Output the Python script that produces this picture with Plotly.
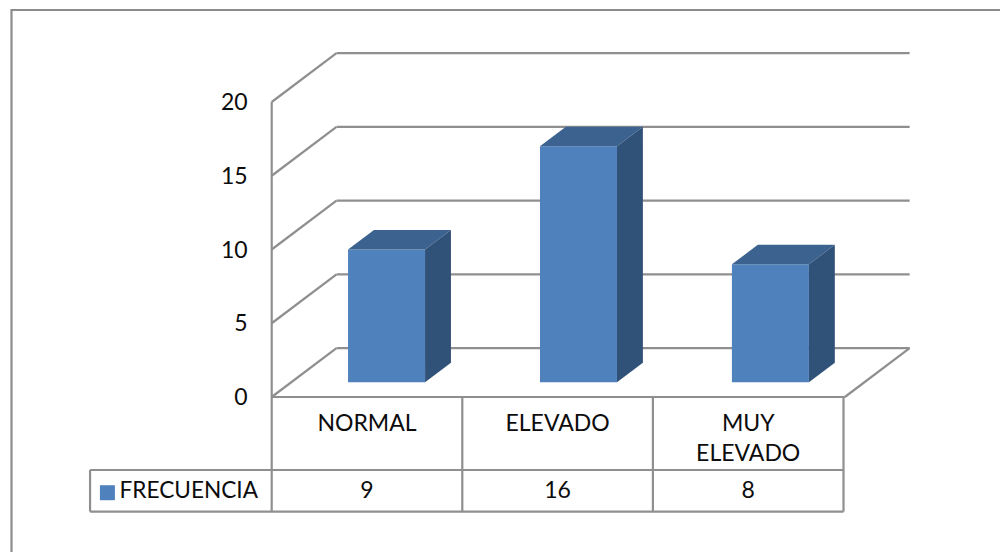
import plotly.graph_objects as go

# Chart data
categories = ["NORMAL", "ELEVADO", "MUY<br>ELEVADO"]
frecuencia = [9, 16, 8]
series_name = "FRECUENCIA"
y_ticks = [0, 5, 10, 15, 20]

# Canvas and axis scale
WIDTH, HEIGHT = 1000, 552
ORIGIN_X, ORIGIN_Y = 271.7, 397.0   # where category 0 / value 0 sit on the canvas
CAT_PX = 190.6                      # pixels per category
VAL_PX = 14.75                      # pixels per value unit

# Oblique projection: depth 0 is the front of the floor, depth 1 the back wall
DEPTH_X = 0.340    # category units across the depth
DEPTH_Y = 3.31     # value units across the depth
BAR_WIDTH = 0.404
BAR_FRONT = 0.30
BAR_BACK = 0.70
BAR_PITCH = 1.007  # columns sit slightly wider apart than the table cells
BAR_SHIFT = -0.003
WALL_RIGHT = 3.007

# Table rows, in value units below the axis
ROW_TOP = -4.95
ROW_BOTTOM = -7.77
TABLE_LEFT = -0.953

GRAY = "#8f8f8f"
FRONT = "#4f81bd"
TOP = "#3c6290"
SIDE = "#315278"
FONT = dict(family="Lato", size=23, color="#0c0c0c")


def proj(x, v, d):
    return x + d * DEPTH_X, v + d * DEPTH_Y


def poly(points, color):
    xs, ys = zip(*points)
    return go.Scatter(
        x=list(xs) + [xs[0]], y=list(ys) + [ys[0]], mode="lines", fill="toself",
        fillcolor=color, line=dict(width=0, color=color), hoverinfo="skip",
        showlegend=False,
    )


def line_shape(p, q, width=2.2):
    return dict(type="line", xref="x", yref="y", layer="below",
                x0=p[0], y0=p[1], x1=q[0], y1=q[1],
                line=dict(color=GRAY, width=width))


shapes = []
# Back wall and side wall grid lines
for v in y_ticks:
    shapes.append(line_shape(proj(0, v, 0), proj(0, v, 1)))
    shapes.append(line_shape(proj(0, v, 1), proj(WALL_RIGHT, v, 1)))
# Floor edges and the vertical axis
shapes.append(line_shape(proj(0, 0, 0), proj(WALL_RIGHT, 0, 0)))
shapes.append(line_shape(proj(WALL_RIGHT, 0, 0), proj(WALL_RIGHT, 0, 1)))
shapes.append(line_shape(proj(0, 0, 0), proj(0, y_ticks[-1], 0)))

# Outer chart border: left and top sides only
shapes.append(dict(type="line", xref="paper", yref="paper", x0=0.0115, x1=0.0115,
                   y0=0, y1=1 - 10 / HEIGHT, line=dict(color="#8c8c8c", width=2.2)))
shapes.append(dict(type="line", xref="paper", yref="paper", x0=0.0105, x1=1,
                   y0=1 - 10 / HEIGHT, y1=1 - 10 / HEIGHT,
                   line=dict(color="#8c8c8c", width=2.2)))

fig = go.Figure()

centers = [i + 0.5 for i in range(len(frecuencia))]
bar_centers = [c * BAR_PITCH + BAR_SHIFT for c in centers]
bar_x = [c + BAR_FRONT * DEPTH_X for c in bar_centers]

# Front faces of the columns
fig.add_trace(go.Bar(
    x=bar_x, y=frecuencia, base=BAR_FRONT * DEPTH_Y, width=BAR_WIDTH,
    marker=dict(color=FRONT, line=dict(width=0)), name=series_name,
    showlegend=False,
))

# Top and side faces of the columns
for c, v in zip(bar_centers, frecuencia):
    left, right = c - BAR_WIDTH / 2, c + BAR_WIDTH / 2
    fig.add_trace(poly([proj(left, v, BAR_FRONT), proj(right, v, BAR_FRONT),
                        proj(right, v, BAR_BACK), proj(left, v, BAR_BACK)], TOP))
    fig.add_trace(poly([proj(right, 0, BAR_FRONT), proj(right, v, BAR_FRONT),
                        proj(right, v, BAR_BACK), proj(right, 0, BAR_BACK)], SIDE))

# Data table rules below the axis
table_x, table_y = [], []
for i in range(len(categories) + 1):
    table_x += [i, i, None]
    table_y += [0, ROW_BOTTOM, None]
table_x += [TABLE_LEFT, len(categories), None, TABLE_LEFT, len(categories), None,
            TABLE_LEFT, TABLE_LEFT]
table_y += [ROW_TOP, ROW_TOP, None, ROW_BOTTOM, ROW_BOTTOM, None, ROW_TOP, ROW_BOTTOM]
fig.add_trace(go.Scatter(
    x=table_x, y=table_y, mode="lines", line=dict(color=GRAY, width=2.2),
    hoverinfo="skip", showlegend=False,
))

# Values row of the table
row_mid = (ROW_TOP + ROW_BOTTOM) / 2 - 0.13
fig.add_trace(go.Scatter(
    x=centers, y=[row_mid] * len(centers), text=[str(v) for v in frecuencia],
    mode="text", textposition="middle center", textfont=FONT,
    hoverinfo="skip", showlegend=False,
))

# Series key and name in the first table column
fig.add_trace(go.Scatter(
    x=[TABLE_LEFT + 0.091], y=[row_mid], mode="markers",
    marker=dict(symbol="square", size=15, color=FRONT, line=dict(width=0)),
    hoverinfo="skip", showlegend=False,
))
fig.add_trace(go.Scatter(
    x=[TABLE_LEFT + 0.155], y=[row_mid], text=[series_name], mode="text",
    textposition="middle right", textfont=dict(FONT, size=22.6),
    hoverinfo="skip", showlegend=False,
))

# Both axes span the whole canvas; their lines are placed at the chart origin
fig.update_layout(
    width=WIDTH, height=HEIGHT, margin=dict(l=0, r=0, t=0, b=0),
    paper_bgcolor="white", plot_bgcolor="rgba(0,0,0,0)",
    shapes=shapes, font=FONT, template="none",
    xaxis=dict(
        domain=[0, 1], range=[-ORIGIN_X / CAT_PX, (WIDTH - ORIGIN_X) / CAT_PX],
        anchor="free", position=1 - ORIGIN_Y / HEIGHT, automargin=False,
        tickmode="array", tickvals=centers, ticktext=categories, ticks="",
        tickangle=0, ticklabelstandoff=10, showgrid=False, zeroline=False, showline=False,
        tickfont=FONT,
    ),
    yaxis=dict(
        domain=[0, 1], range=[(ORIGIN_Y - HEIGHT) / VAL_PX, ORIGIN_Y / VAL_PX],
        anchor="free", position=ORIGIN_X / WIDTH, automargin=False,
        tickmode="array", tickvals=y_ticks, ticks="",
        ticklabelstandoff=24, showgrid=False, zeroline=False, showline=False,
        tickfont=FONT,
    ),
)

fig.write_html("out.html", config=dict(displayModeBar=False))
